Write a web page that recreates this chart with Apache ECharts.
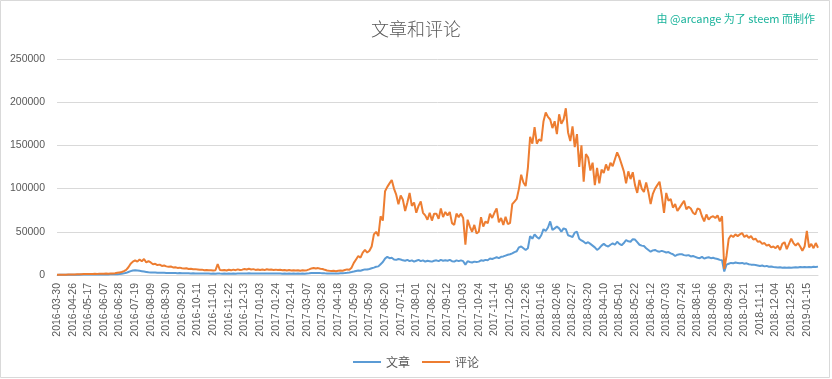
<!DOCTYPE html>
<html><head><meta charset="utf-8">
<script src="https://cdn.jsdelivr.net/npm/echarts@6/dist/echarts.min.js"></script>
<style>html,body{margin:0;padding:0;background:#fff}#c{width:832px;height:379px}</style>
</head><body><div id="c"></div>
<script>
// tick labels shown every 7th category (3-day sampling => 21 days)
const tickLabels = [
 '2016-03-30','2016-04-26','2016-05-17','2016-06-07','2016-06-28','2016-07-19','2016-08-09','2016-08-30',
 '2016-09-20','2016-10-11','2016-11-01','2016-11-22','2016-12-13','2017-01-03','2017-01-24','2017-02-14',
 '2017-03-07','2017-03-28','2017-04-18','2017-05-09','2017-05-30','2017-06-20','2017-07-11','2017-08-01',
 '2017-08-22','2017-09-12','2017-10-03','2017-10-24','2017-11-14','2017-12-05','2017-12-26','2018-01-16',
 '2018-02-06','2018-02-27','2018-03-20','2018-04-10','2018-05-01','2018-05-22','2018-06-12','2018-07-03',
 '2018-07-24','2018-08-16','2018-09-06','2018-09-29','2018-10-21','2018-11-11','2018-12-04','2018-12-25',
 '2019-01-15'
];

// 文章 (posts)
const posts = [
 100,150,200,200,250,300,300,
 300,350,400,400,450,500,500,
 500,550,500,600,550,600,650,
 650,700,700,750,800,900,1000,
 1200,1500,1900,2500,3500,4500,5300,
 5500,5200,4800,4400,4000,3600,3200,
 3000,2800,2900,2600,2700,2500,2600,
 2400,2300,2400,2200,2300,2100,2200,
 2000,2100,1900,2000,1800,1900,1800,
 1700,1800,1600,1700,1600,1700,1500,
 1600,1500,1800,1600,1500,1600,1500,
 1600,1500,1700,1500,1700,1600,1700,
 1800,1700,1900,1700,1800,1600,1800,
 1700,1800,1600,1800,1700,1800,1600,
 1700,1600,1700,1500,1600,1500,1600,
 1500,1600,1500,1600,1500,1600,1500,
 1700,1900,2200,2400,2300,2400,2200,
 2100,1900,1800,1700,1600,1700,1700,
 1800,2000,2100,2300,2600,3000,3500,
 4000,4600,5200,5000,5800,6500,6300,
 7000,7800,8500,9500,10000,12500,15000,
 19000,21000,19500,20000,18000,17500,18500,
 18000,17000,16500,17500,16000,17000,15500,
 16500,17500,16000,17000,15500,16500,16000,
 15500,16500,17000,16000,17500,16500,17000,
 16500,17500,16000,15500,17000,16000,17000,
 16000,12000,16000,15000,14500,15500,15000,
 15500,17000,16500,17500,17000,19000,18500,
 19500,20500,19500,21000,21500,22500,23500,
 24000,25000,26500,27500,32000,33000,31000,
 29000,31000,45000,42000,47000,44000,42000,
 46000,53000,51000,55000,62000,52000,54000,
 56000,54000,50000,54000,53000,46000,45000,
 44000,49000,50000,42000,40000,38500,36500,
 38000,36000,34000,32000,29000,31000,34000,
 36000,34000,33000,35000,36500,35000,38500,
 36000,34500,37000,40500,39000,38500,41500,
 41000,38000,35000,34000,33500,31000,29000,
 27000,28500,29000,27500,27000,28000,27000,
 26000,26500,25000,24000,22000,23500,24000,
 24000,23000,22500,23000,21500,22000,21000,
 20000,19500,21000,19000,20000,20500,19500,
 20000,19000,18500,17500,17000,4000,12000,
 13000,14000,13500,14500,14000,13500,14000,
 13000,13500,12500,12000,12000,11500,11000,
 10500,11000,10000,10500,9500,9800,9200,
 9000,8800,9000,8500,8800,8400,8600,
 8500,8800,9000,8700,9200,9000,9300,
 9000,9200,8900,9500,9300,9700
];

// 评论 (comments)
const comments = [
 200,300,300,400,400,500,500,
 600,700,800,900,1000,1200,1100,
 1300,1200,1300,1400,1300,1500,1400,
 1500,1600,1500,1700,1800,2000,2500,
 3000,3500,4500,6000,9000,13000,15500,
 17000,15500,18000,16000,18500,14500,16000,
 14500,12500,13000,11500,12000,10500,11000,
 10000,9500,9800,8800,9000,8200,8500,
 7800,7500,7800,7000,7200,6600,6800,
 6400,6000,6200,5600,5800,5400,5600,
 5200,5500,12500,5800,5400,5700,5200,
 6000,5400,6200,5600,6500,5800,6200,
 7000,6300,7200,6400,6800,5900,6400,
 5800,6300,5700,6600,6000,6400,5900,
 6200,5700,6100,5500,5900,5300,5700,
 5200,5600,5100,5500,5000,5400,5200,
 5600,6500,7600,8200,7500,8000,7200,
 7000,6000,5200,4800,4500,4800,4400,
 4800,5200,5000,5800,6500,6200,8500,
 14000,18000,22000,20000,26000,29000,26000,
 28000,33000,47000,50000,45000,68000,63000,
 97000,102000,106000,110000,100000,93000,82000,
 92000,87000,74000,84000,95000,80000,84000,
 72000,80000,85000,72000,69000,64000,72000,
 63000,71000,71000,65000,77000,67000,73000,
 69000,73000,60000,58000,71000,67000,71000,
 66000,35000,64000,56000,50000,58000,48000,
 50000,67000,56000,62000,60000,71000,66000,
 72000,77000,61000,66000,58000,67500,59000,
 60000,82000,85000,88000,100000,116000,107000,
 103000,124000,160000,152000,171000,152000,157000,
 155000,178000,188000,183000,180000,170000,178000,
 163000,186000,175000,180000,193000,165000,155000,
 172000,148000,163000,125000,150000,108000,140000,
 136000,121000,130000,104000,124000,106000,122000,
 118000,128000,121000,130000,126000,134000,142000,
 136000,128000,120000,106000,120000,111000,119000,
 104000,95000,110000,100000,96000,107000,96000,
 82000,94000,100000,104000,108000,92000,72000,
 95000,86000,88000,78000,82000,74000,78000,
 82000,86000,76000,79000,77000,72000,70000,
 77000,76000,68000,62000,70000,64000,67000,
 68000,66000,69000,62000,68000,7000,22000,
 42000,46000,44000,47000,45000,47000,48500,
 44000,46000,43000,45000,41000,42000,38500,
 39000,36000,37000,34000,35000,32000,33000,
 31000,34000,29000,36000,38000,30000,36000,
 42000,37000,34000,37000,33000,28000,33000,
 51000,32000,36000,31000,37000,31500
];

const seriesNames = ['文章', '评论'];
const categories = posts.map((_, i) => String(i));
const txt = '#595959';
const numFont = 'Liberation Sans, Arial, sans-serif';
const cjkFont = 'Noto Sans CJK SC, sans-serif';

const chart = echarts.init(document.getElementById('c'), null, {renderer: 'canvas'});
chart.setOption({
  animation: false,
  backgroundColor: '#fff',
  title: [
    {text: '文章和评论', left: 'center', top: 15,
     textStyle: {fontFamily: cjkFont, fontSize: 18, fontWeight: 300, color: txt}},
    {text: '由 @arcange 为了 steem 而制作', right: 12, top: 8,
     textStyle: {fontFamily: cjkFont, fontSize: 11, fontWeight: 'normal', color: '#19b39b'}}
  ],
  graphic: [{type: 'rect', shape: {x: 0.5, y: 0.5, width: 829, height: 377},
    style: {fill: 'none', stroke: '#d9d9d9', lineWidth: 1}, silent: true}],
  legend: {
    data: seriesNames, left: 'center', top: 351, icon: 'rect', itemWidth: 28, itemHeight: 2, itemGap: 12,
    textStyle: {fontFamily: cjkFont, fontSize: 12, color: txt}
  },
  grid: {left: 57, right: 14, top: 59, bottom: 104, containLabel: false},
  xAxis: {
    type: 'category', data: categories, boundaryGap: false,
    axisLine: {lineStyle: {color: '#d9d9d9', width: 1}},
    axisTick: {show: false},
    axisLabel: {
      interval: 6, rotate: 90, margin: 8, color: txt, fontFamily: numFont, fontSize: 10.5,
      formatter: (v, i) => (i % 7 === 0 ? tickLabels[i / 7] : '')
    },
    splitLine: {show: false}
  },
  yAxis: {
    type: 'value', min: 0, max: 250000, interval: 50000,
    axisLine: {show: false}, axisTick: {show: false},
    axisLabel: {margin: 12, color: txt, fontFamily: numFont, fontSize: 10.5,
      formatter: (v) => String(v)},
    splitLine: {lineStyle: {color: '#d9d9d9', width: 1}}
  },
  series: [
    {name: seriesNames[0], type: 'line', data: posts, symbol: 'none', smooth: false,
     lineStyle: {color: '#5b9bd5', width: 2}, itemStyle: {color: '#5b9bd5'}},
    {name: seriesNames[1], type: 'line', data: comments, symbol: 'none', smooth: false,
     lineStyle: {color: '#ed7d31', width: 2}, itemStyle: {color: '#ed7d31'}}
  ]
});
</script>
</body></html>
